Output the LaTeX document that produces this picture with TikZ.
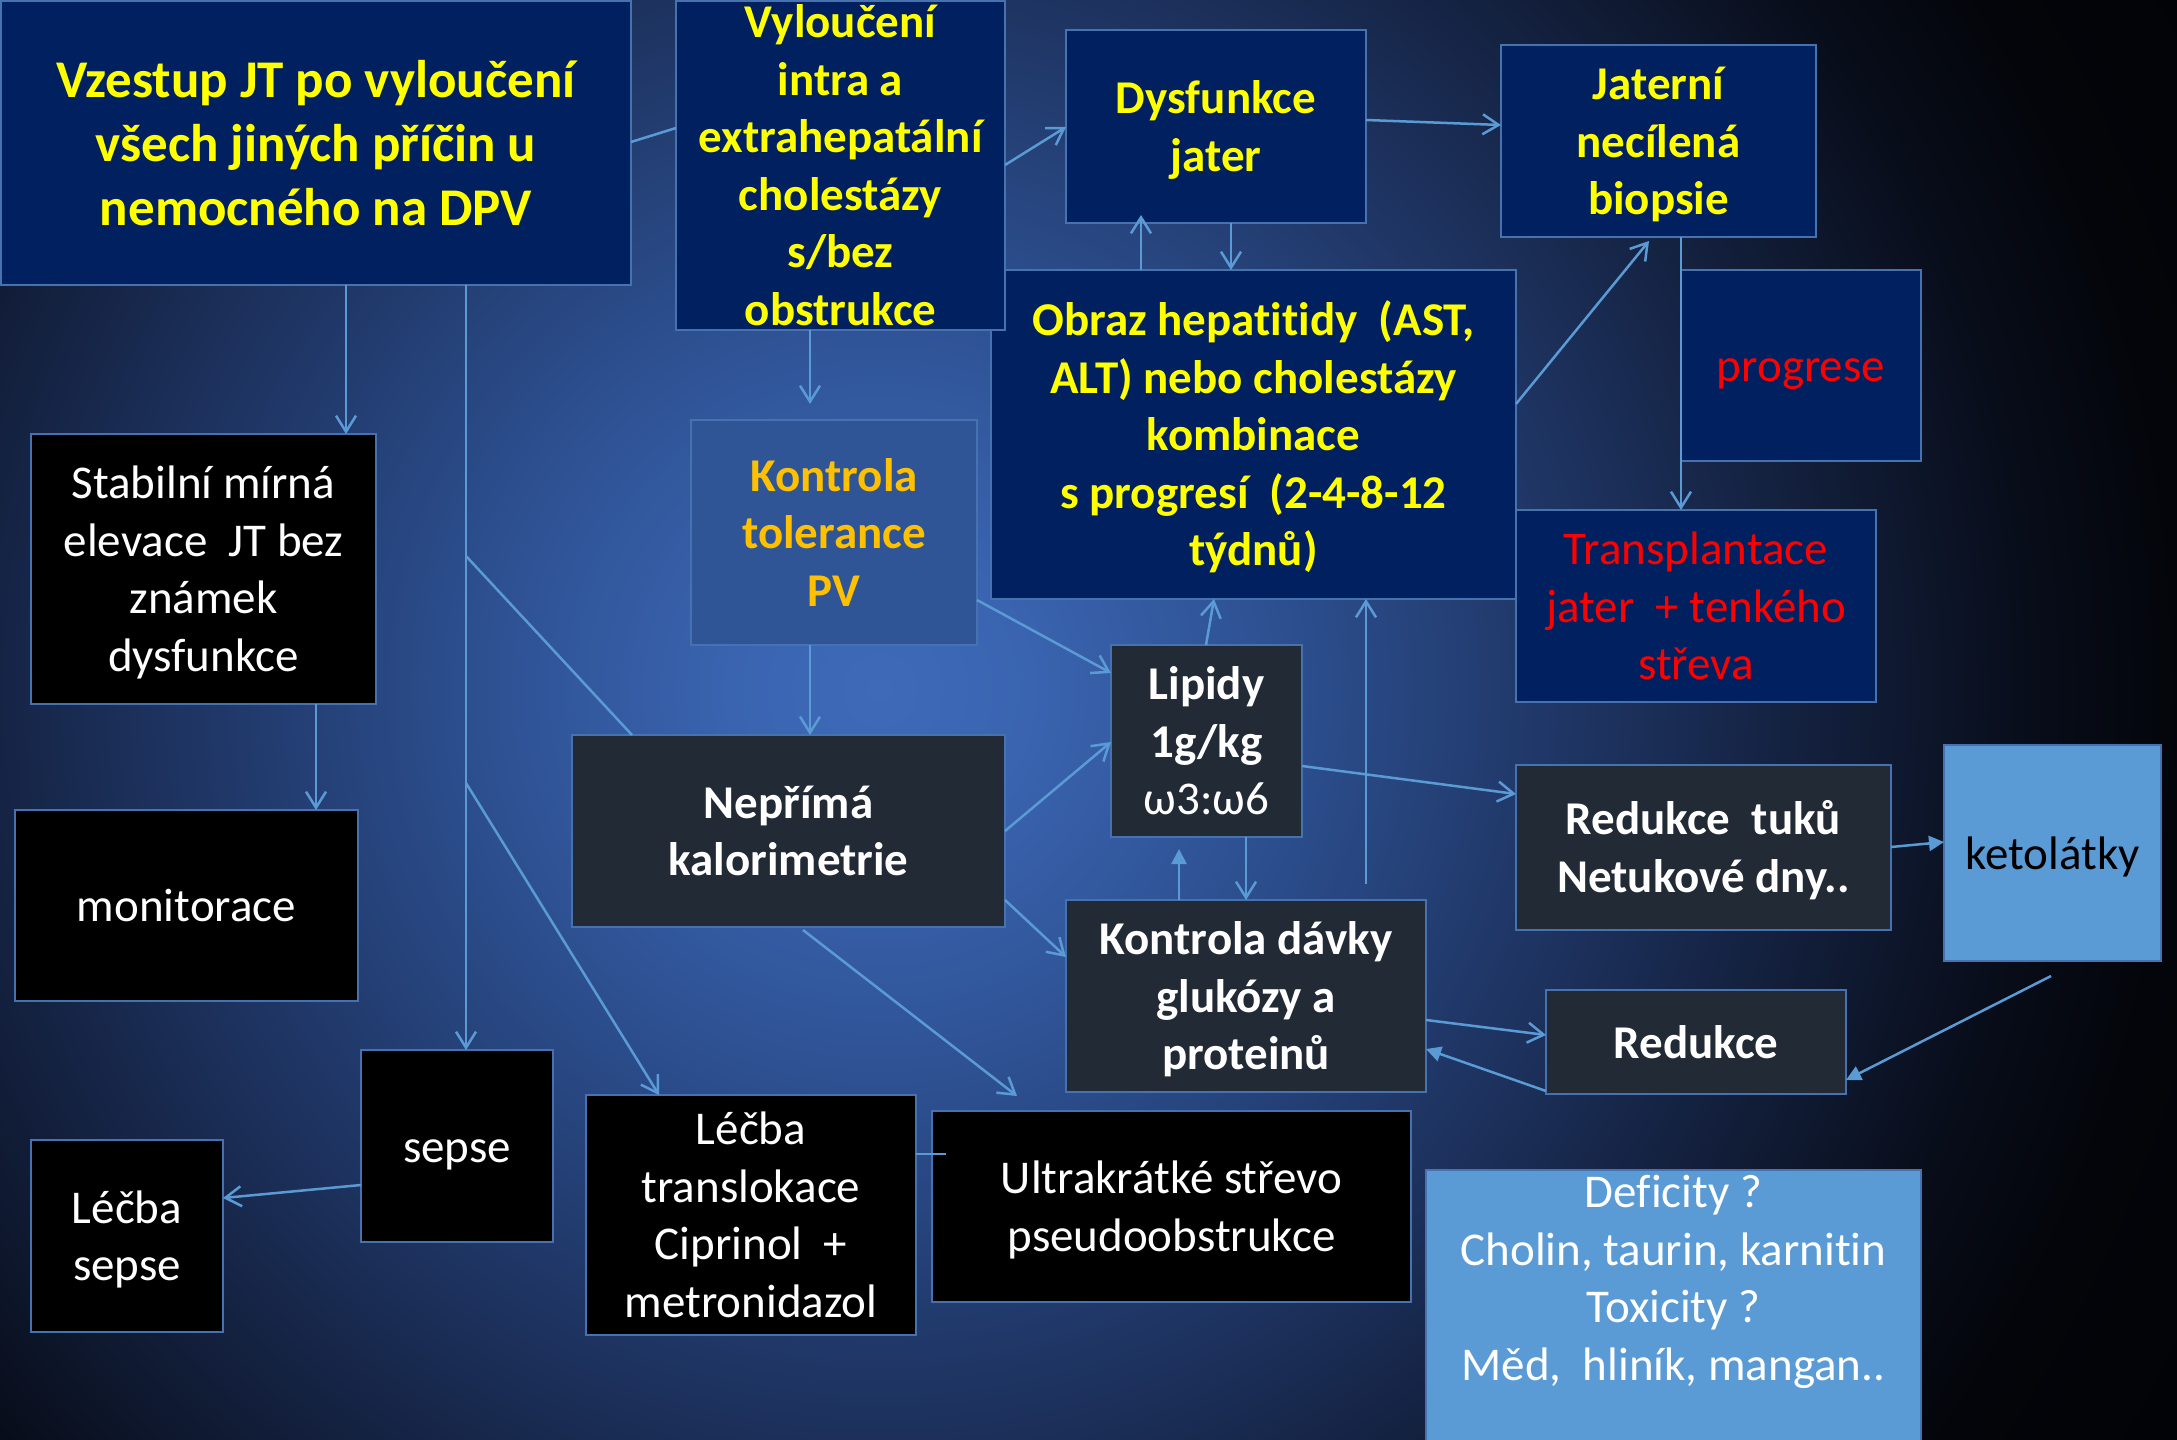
\documentclass[tikz,border=0pt]{standalone}
\usepackage{fontspec}
\setmainfont{Carlito}[Ligatures=NoCommon]
\usetikzlibrary{arrows.meta}
\definecolor{navy}{RGB}{0,32,96}
\definecolor{pvfill}{RGB}{47,85,151}
\definecolor{dgray}{RGB}{34,42,53}
\definecolor{lblue}{RGB}{91,155,213}
\definecolor{edgec}{RGB}{70,115,175}
\definecolor{arrc}{RGB}{91,155,213}
\definecolor{ylw}{RGB}{255,255,0}
\definecolor{orgc}{RGB}{255,192,0}
\definecolor{redc}{RGB}{255,0,0}
\definecolor{bgA}{RGB}{62,106,184}
\definecolor{bgB}{RGB}{58,100,176}
\definecolor{bgC}{RGB}{45,80,145}
\definecolor{bgD}{RGB}{30,52,98}
\definecolor{bgE}{RGB}{18,30,58}
\definecolor{bgF}{RGB}{8,13,26}
\definecolor{bgG}{RGB}{3,5,10}
\definecolor{bgH}{RGB}{2,3,6}
\pgfdeclareradialshading{bgshade}{\pgfpoint{0bp}{0bp}}{color(0bp)=(bgA); color(2.5bp)=(bgB); color(6.67bp)=(bgC); color(11.67bp)=(bgD); color(15.83bp)=(bgE); color(19.17bp)=(bgF); color(21.67bp)=(bgG); color(25bp)=(bgH); color(50bp)=(bgH)}
\newcommand\pptstrut{\rule[-0.269em]{0pt}{1.221em}}
\newcommand\mybox[8]{%
  \pgfmathsetmacro\mybw{#4-#2}\pgfmathsetmacro\mybh{#5-#3}%
  \pgfmathsetmacro\mycx{(#2+#4)/2}\pgfmathsetmacro\mycy{(#3+#5)/2}%
  \node[box,#6,minimum width=\mybw pt,minimum height=\mybh pt] (#1) at (\mycx,\mycy) {};
  \node[#7] (#1t) at (#1.center) {\pptstrut#8\pptstrut};}
\tikzset{
  box/.style={draw=edgec, line width=2.5pt, inner sep=0pt, outer sep=0pt},
  txtbase/.style={align=center, inner sep=0pt, font=\fontsize{47}{57.5}\selectfont},
  ytxt/.style={txtbase, text=ylw, font=\fontsize{47}{57.5}\selectfont\bfseries},
  ytxtL/.style={txtbase, text=ylw, font=\fontsize{53}{64}\selectfont\bfseries},
  otxt/.style={txtbase, text=orgc, font=\fontsize{47}{57.5}\selectfont\bfseries},
  rtxt/.style={txtbase, text=redc},
  wtxt/.style={txtbase, text=white},
  wbtxt/.style={txtbase, text=white, font=\fontsize{47}{57.5}\selectfont\bfseries},
  ktxt/.style={txtbase, text=black},
  conn/.style={draw=arrc, line width=2.5pt},
  oarr/.style={conn, -{Straight Barb[length=16pt,width=20pt]}},
  farr/.style={conn, -{Triangle[length=15pt,width=15pt]}}
}
\begin{document}
\begin{tikzpicture}[x=1pt,y=-1pt]
\useasboundingbox (0,0) rectangle (2177,1440);
\fill[bgH] (0,0) rectangle (2177,1440);
\begin{scope}
\clip (0,0) rectangle (2177,1440);
\shade[shading=bgshade] (-620,-810) rectangle (2380,2190);
\end{scope}
% boxes
\mybox{vz}{1}{1}{631}{285}{fill=navy}{ytxtL}{Vzestup JT po vyloučení\\všech jiných příčin u\\nemocného na DPV}
\mybox{ob}{991}{270}{1516}{599}{fill=navy}{ytxt}{Obraz hepatitidy\ \ (AST,\\ALT) nebo cholestázy\\kombinace\\s progresí\ \ (2-4-8-12\\týdnů)}
\mybox{vyl}{676}{1}{1005}{330}{fill=navy}{ytxt}{Vyloučení\\intra a\\extrahepatální\\cholestázy\\s/bez\\obstrukce}
\mybox{dys}{1066}{30}{1366}{223}{fill=navy}{ytxt}{Dysfunkce\\jater}
\mybox{jat}{1501}{45}{1816}{237}{fill=navy}{ytxt}{Jaterní\\necílená\\biopsie}
\mybox{pro}{1681}{270}{1921}{461}{fill=navy}{rtxt}{progrese}
\mybox{tra}{1516}{510}{1876}{702}{fill=navy}{rtxt}{Transplantace\\jater\ \ + tenkého\\střeva}
\mybox{pv}{691}{420}{977}{645}{fill=pvfill}{otxt}{Kontrola\\tolerance\\PV}
\mybox{stab}{31}{434}{376}{704}{fill=black}{wtxt}{Stabilní mírná\\elevace\ \ JT bez\\známek\\dysfunkce}
\mybox{mon}{15}{810}{358}{1001}{fill=black}{wtxt}{monitorace}
\mybox{nep}{572}{735}{1005}{927}{fill=dgray}{wbtxt}{Nepřímá\\kalorimetrie}
\mybox{lip}{1111}{645}{1302}{837}{fill=dgray}{wbtxt}{Lipidy\\1g/kg\\\mdseries ω3:ω6}
\mybox{kd}{1066}{900}{1426}{1092}{fill=dgray}{wbtxt}{Kontrola dávky\\glukózy a\\proteinů}
\mybox{rt}{1516}{765}{1891}{930}{fill=dgray}{wbtxt}{Redukce\ \ tuků\\Netukové dny..}
\mybox{keto}{1944}{745}{2161}{961}{fill=lblue}{ktxt}{ketolátky}
\mybox{red}{1546}{990}{1846}{1094}{fill=dgray}{wbtxt}{Redukce}
\mybox{sep}{361}{1050}{553}{1242}{fill=black}{wtxt}{sepse}
\mybox{ls}{31}{1140}{223}{1332}{fill=black}{wtxt}{Léčba\\sepse}
\mybox{tr}{586}{1095}{916}{1335}{fill=black}{wtxt}{Léčba\\translokace\\Ciprinol\ \ +\\metronidazol}
\mybox{ul}{932}{1111}{1411}{1302}{fill=black}{wtxt}{Ultrakrátké střevo\\pseudoobstrukce}
\mybox{def}{1426}{1170}{1921}{1448}{fill=lblue}{wtxt,yshift=31pt}{Deficity ?\\Cholin, taurin, karnitin\\Toxicity ?\\Měd,\ \ hliník, mangan..}
% connectors
\coordinate (j1) at (466,556);
\coordinate (j2) at (466,783);
\draw[oarr] ([xshift=345pt]vz.south west) -- ([xshift=315pt]stab.north west);
\draw[oarr] ([xshift=465pt]vz.south west) -- ([xshift=105pt]sep.north west);
\draw[conn] (j1) -- ([xshift=60pt]nep.north west);
\draw[oarr] (j2) -- ([xshift=73pt]tr.north west);
\draw[conn] ([yshift=-141pt]vz.north east) -- ([yshift=-127pt]vyl.north west);
\draw[oarr] ([xshift=134pt]vyl.south west) -- ([xshift=119pt,yshift=16pt]pv.north west);
\draw[oarr] ([yshift=-164pt]vyl.north east) -- ([yshift=-97pt]dys.north west);
\draw[oarr] ([yshift=-90pt]dys.north east) -- ([yshift=-80pt]jat.north west);
\draw[oarr] ([xshift=150pt]ob.north west) -- ([xshift=75pt,yshift=8pt]dys.south west);
\draw[oarr] ([xshift=165pt]dys.south west) -- ([xshift=240pt]ob.north west);
\draw[oarr] ([yshift=-134pt]ob.north east) -- ([xshift=148pt,yshift=-4pt]jat.south west);
\draw[oarr] ([xshift=180pt]jat.south west) -- ([xshift=165pt]tra.north west);
\draw[oarr] ([yshift=-180pt]pv.north east) -- ([yshift=-28pt]lip.north west);
\draw[oarr] ([xshift=119pt]pv.south west) -- ([xshift=238pt]nep.north west);
\draw[oarr] ([xshift=95pt]lip.north west) -- ([xshift=223pt]ob.south west);
\draw[oarr] ([xshift=300pt,yshift=16pt]kd.north west) -- ([xshift=375pt]ob.south west);
\draw[oarr] ([yshift=-96pt]nep.north east) -- ([yshift=-97pt]lip.north west);
\draw[oarr] ([yshift=-165pt]nep.north east) -- ([yshift=-57pt]kd.north west);
\draw[oarr] ([xshift=231pt,yshift=-3pt]nep.south west) -- ([xshift=85pt,yshift=15pt]ul.north west);
\draw[oarr] ([yshift=-121pt]lip.north east) -- ([yshift=-29pt]rt.north west);
\draw[farr] ([yshift=-82pt]rt.north east) -- ([yshift=-97pt]keto.north west);
\draw[farr] ([xshift=107pt,yshift=-15pt]keto.south west) -- ([yshift=-90pt]red.north east);
\draw[oarr] ([yshift=-120pt]kd.north east) -- ([yshift=-45pt]red.north west);
\draw[farr] ([yshift=3pt]red.south west) -- ([yshift=-149pt]kd.north east);
\draw[farr] ([xshift=113pt]kd.north west) -- ([xshift=68pt,yshift=-12pt]lip.south west);
\draw[oarr] ([xshift=135pt]lip.south west) -- ([xshift=180pt]kd.north west);
\draw[oarr] ([yshift=-135pt]sep.north west) -- ([yshift=-58pt]ls.north east);
\draw[oarr] ([xshift=285pt]stab.south west) -- ([xshift=301pt]mon.north west);
\draw[conn] ([yshift=-59pt]tr.north east) -- ([xshift=14pt,yshift=-43pt]ul.north west);
\end{tikzpicture}
\end{document}
